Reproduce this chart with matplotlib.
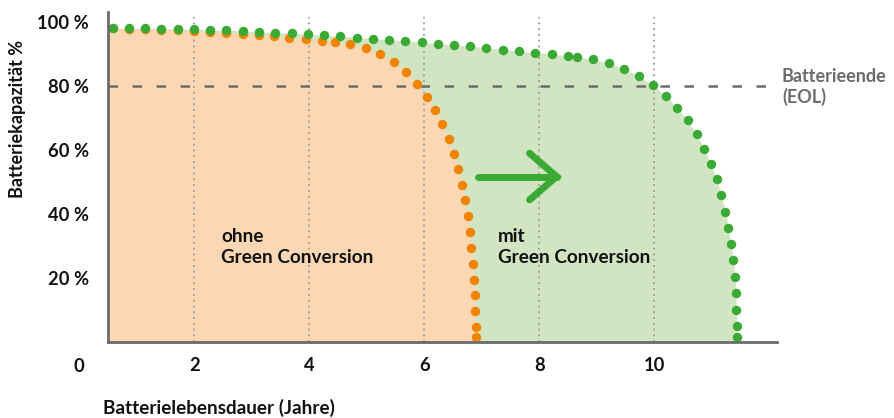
import matplotlib.pyplot as plt

# Dot positions (x = Jahre, y = Batteriekapazität %)
ohne_x = [0.587, 0.861, 1.139, 1.423, 1.707, 1.993, 2.277, 2.556, 2.840, 3.125,
          3.375, 3.653, 3.937, 4.216, 4.443, 4.704, 4.977, 5.226, 5.470, 5.686,
          5.871, 6.045, 6.185, 6.314, 6.423, 6.510, 6.592, 6.655, 6.707, 6.754,
          6.789, 6.819, 6.841, 6.859, 6.876, 6.889, 6.894, 6.899]
ohne_y = [98.1, 97.9, 97.9, 97.7, 97.5, 97.3, 97.0, 96.6, 96.3, 95.9,
          95.6, 95.2, 94.8, 94.2, 93.8, 93.2, 91.9, 90.0, 87.5, 84.3,
          80.8, 76.7, 72.5, 68.1, 63.6, 58.8, 54.0, 49.2, 44.3, 39.3,
          34.3, 29.4, 24.4, 19.4, 14.5, 9.5, 4.5, 1.4]

mit_x = [0.587, 0.861, 1.139, 1.423, 1.707, 1.993, 2.277, 2.556, 2.840, 3.125,
         3.409, 3.693, 3.972, 4.258, 4.537, 4.821, 5.105, 5.383, 5.669, 5.953,
         6.237, 6.519, 6.801, 7.080, 7.364, 7.648, 7.927, 8.213, 8.497, 8.653,
         8.927, 9.206, 9.477, 9.733, 9.972, 10.199, 10.399, 10.578, 10.735, 10.871,
         10.983, 11.087, 11.162, 11.237, 11.289, 11.336, 11.376, 11.401, 11.418, 11.429,
         11.436, 11.441]
mit_y = [98.1, 98.1, 98.1, 98.0, 97.9, 97.8, 97.6, 97.5, 97.3, 97.0,
         96.7, 96.6, 96.2, 95.9, 95.6, 95.2, 94.9, 94.5, 94.1, 93.7,
         93.3, 92.9, 92.5, 92.0, 91.4, 91.0, 90.5, 90.0, 89.4, 89.1,
         88.4, 87.2, 85.4, 83.1, 80.3, 77.0, 73.3, 69.3, 64.9, 60.3,
         55.6, 50.8, 45.8, 40.7, 35.7, 30.6, 25.5, 20.3, 15.2, 9.9,
         4.8, 1.5]

x_ticks = [2, 4, 6, 8, 10]
y_ticks = [20, 40, 60, 80, 100]
y_labels = ["20 %", "40 %", "60 %", "80 %", "100 %"]
eol_level = 80

FONT = "Lato"
ORANGE = "#f08300"
GREEN = "#3aaa35"
ORANGE_FILL = "#fbd7b4"
GREEN_FILL = "#d1e5c3"
GREY = "#6b6b6b"
INK = "#111111"

fig = plt.figure(figsize=(8.94, 4.18), dpi=100)
ax = fig.add_axes([0.1211, 0.1825, 0.7477, 0.7888])
ax.set_xlim(0.5, 12.13)
ax.set_ylim(0, 103.2)

# filled areas under each curve
ax.fill_between([0.5] + mit_x + [mit_x[-1]], [mit_y[0]] + mit_y + [0],
                color=GREEN_FILL, lw=0, zorder=1)
ax.fill_between([0.5] + ohne_x + [ohne_x[-1]], [ohne_y[0]] + ohne_y + [0],
                color=ORANGE_FILL, lw=0, zorder=2)

# dotted vertical grid
ax.vlines(x_ticks, 0, 101.5, colors="#9a9a9a", lw=1.3,
          linestyles=(0, (1, 2.2)), zorder=3)

# end of life line
ax.axhline(eol_level, color=GREY, lw=1.8, linestyle=(0, (3.8, 5.8)), zorder=4)

ax.scatter(ohne_x, ohne_y, s=46, color=ORANGE, lw=0, zorder=5)
ax.scatter(mit_x, mit_y, s=46, color=GREEN, lw=0, zorder=6)

# green arrow
ax.plot([6.93, 8.30], [51.7, 51.7], color=GREEN, lw=5, solid_capstyle="round", zorder=7)
ax.plot([7.83, 8.30, 7.83], [59.0, 51.7, 44.4], color=GREEN, lw=5,
        solid_capstyle="round", solid_joinstyle="miter", zorder=7)

ax.text(2.47, 29.6, "ohne\nGreen Conversion", fontsize=13.6, family=FONT,
        weight="bold", color=INK, va="center", ha="left", linespacing=1.3, zorder=8)
ax.text(7.28, 29.6, "mit\nGreen Conversion", fontsize=13.6, family=FONT,
        weight="bold", color=INK, va="center", ha="left", linespacing=1.3, zorder=8)
ax.text(12.22, 79.7, "Batterieende\n(EOL)", fontsize=13, family=FONT,
        weight="bold", color=GREY, va="center", ha="left", linespacing=1.2,
        clip_on=False)

# axes styling
for side in ["top", "right"]:
    ax.spines[side].set_visible(False)
for side in ["left", "bottom"]:
    ax.spines[side].set_color(GREY)
    ax.spines[side].set_linewidth(2)
    ax.spines[side].set_zorder(9)

ax.set_xticks(x_ticks)
ax.set_xticklabels([str(t) for t in x_ticks])
ax.set_yticks(y_ticks)
ax.set_yticklabels(y_labels)
ax.tick_params(length=0)
ax.tick_params(axis="y", pad=14)
ax.tick_params(axis="x", pad=11)
for lab in ax.get_xticklabels() + ax.get_yticklabels():
    lab.set_family(FONT)
    lab.set_weight("bold")
    lab.set_fontsize(13.2)
    lab.set_color(INK)

fig.text(79 / 894, 1 - 366 / 418, "0", fontsize=13.2, family=FONT, weight="bold",
         color=INK, ha="center", va="center")
fig.text(18 / 894, 1 - 119 / 418, "Batteriekapazität %", fontsize=13, family=FONT,
         weight="bold", color=INK, rotation=90, ha="center", va="center")
fig.text(103 / 894, 1 - 408 / 418, "Batterielebensdauer (Jahre)", fontsize=13.6,
         family=FONT, weight="bold", color=INK, ha="left", va="center")

fig.savefig("out.png", dpi=100)
